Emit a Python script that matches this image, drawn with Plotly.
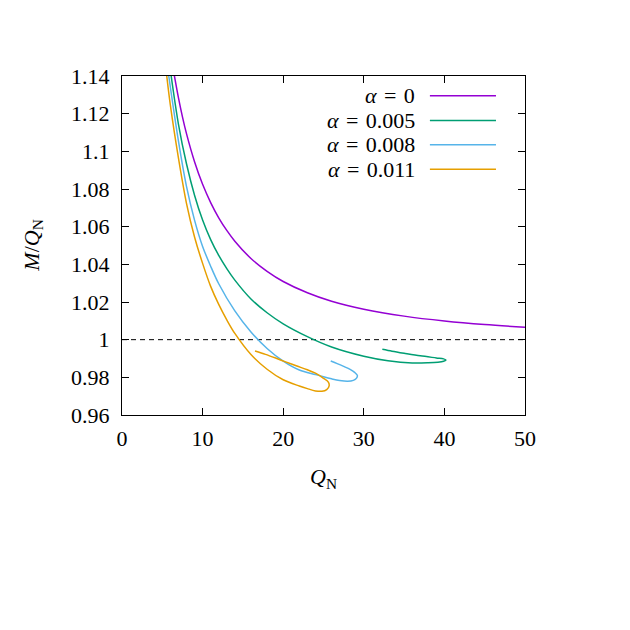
import plotly.graph_objects as go

# ---- data ----
q_a0 = [6.5, 7, 7.5, 8, 9, 10, 11, 12, 13, 14, 16, 18, 20, 23, 26, 30, 35, 40, 45, 50]
m_a0 = [1.1401, 1.1285, 1.1183, 1.1094, 1.0945, 1.0825, 1.0728, 1.0647, 1.0580, 1.0523,
        1.0431, 1.0363, 1.0309, 1.0249, 1.0204, 1.0162, 1.0125, 1.0099, 1.0080, 1.0066]

q_a005 = [6.1, 7, 8, 9, 10, 11, 12, 13, 14, 16, 18, 20, 23, 26, 30, 33, 36, 38, 39.2, 39.9,
          40.2, 39.9, 39.0, 37.0, 35.0, 33.5, 32.3]
m_a005 = [1.140, 1.1145, 1.0934, 1.0767, 1.0635, 1.0531, 1.0447, 1.0377, 1.0316, 1.0216,
          1.0143, 1.0084, 1.0016, 0.9961, 0.9912, 0.9888, 0.9876, 0.9877, 0.9880, 0.9885,
          0.9892, 0.9898, 0.9903, 0.9914, 0.9928, 0.9939, 0.9949]

q_a008 = [5.8, 7, 8, 9, 10, 11, 12, 14, 16, 18, 20, 22, 24, 25, 26, 27, 28, 28.7, 29.1,
          29.2, 28.9, 28.3, 27.5, 26.7, 25.9]
m_a008 = [1.140, 1.1055, 1.0814, 1.0635, 1.0495, 1.039, 1.0297, 1.0153, 1.0041, 0.9953,
          0.9886, 0.9839, 0.9815, 0.9803, 0.9792, 0.9783, 0.9779, 0.9784, 0.9796,
          0.9810, 0.9825, 0.9842, 0.9858, 0.9873, 0.9887]

q_a011 = [5.55, 6, 7, 8, 9, 10, 11, 12, 13, 14, 16, 18, 20, 22, 23, 24, 24.8, 25.4, 25.7,
          25.6, 25.0, 24.0, 23.0, 21.7, 20.3, 19.2, 17.8, 16.5]
m_a011 = [1.140, 1.1245, 1.0965, 1.0724, 1.0545, 1.0405, 1.0283, 1.0187, 1.0105, 1.0033,
          0.9921, 0.9843, 0.9787, 0.9754, 0.9740, 0.9728, 0.9726, 0.9735, 0.9755,
          0.9775, 0.9795, 0.9822, 0.9840, 0.9860, 0.9882, 0.9900, 0.9922, 0.9940]

SP = "\u2004"
series_names = [f"<i>α</i>{SP}={SP}0", f"<i>α</i>{SP}={SP}0.005",
                f"<i>α</i>{SP}={SP}0.008", f"<i>α</i>{SP}={SP}0.011"]
series_colors = ["#9400D3", "#009E73", "#56B4E9", "#E69F00"]

x_ticks = [0, 10, 20, 30, 40, 50]
x_ticktext = ["0", "10", "20", "30", "40", "50"]
y_ticks = [0.96, 0.98, 1.0, 1.02, 1.04, 1.06, 1.08, 1.10, 1.12, 1.14]
y_ticktext = ["0.96", "0.98", "1", "1.02", "1.04", "1.06", "1.08", "1.1", "1.12", "1.14"]

FONT = "Liberation Serif"
FS = 22

fig = go.Figure()

# reference line M/Q_N = 1
fig.add_trace(go.Scatter(x=[0, 50], y=[1, 1], mode="lines",
                         line=dict(color="black", width=1, dash="5px,4px"),
                         showlegend=False, hoverinfo="skip"))

all_series = [(q_a0, m_a0), (q_a005, m_a005), (q_a008, m_a008), (q_a011, m_a011)]
for (qs, ms), name, col in zip(all_series, series_names, series_colors):
    fig.add_trace(go.Scatter(x=qs, y=ms, mode="lines", name=name,
                             line=dict(color=col, width=1.5, shape="spline", smoothing=0.9),
                             showlegend=False))

# gnuplot-style key (text left, sample line right)
leg_y = [0.942, 0.869, 0.797, 0.725]
for name, col, yy in zip(series_names, series_colors, leg_y):
    fig.add_annotation(x=0.732, y=yy, xref="paper", yref="paper", text=name,
                       showarrow=False, xanchor="right", yanchor="middle",
                       font=dict(family=FONT, size=FS, color="black"))
    fig.add_shape(type="line", xref="paper", yref="paper",
                  x0=0.764, x1=0.928, y0=yy, y1=yy,
                  line=dict(color=col, width=1.5))

# axis titles
fig.add_annotation(x=0.5, y=-0.186, xref="paper", yref="paper",
                   text="<i>Q</i><sub>N</sub>", showarrow=False,
                   xanchor="center", yanchor="middle",
                   font=dict(family=FONT, size=FS, color="black"))
fig.add_annotation(x=-0.223, y=0.5, xref="paper", yref="paper",
                   text="<i>M</i>/<i>Q</i><sub>N</sub>", showarrow=False,
                   textangle=-90, xanchor="center", yanchor="middle",
                   font=dict(family=FONT, size=FS, color="black"))

axis_common = dict(showline=True, linecolor="black", linewidth=1, mirror="ticks",
                   ticks="inside", ticklen=7, tickcolor="black", tickwidth=1,
                   showgrid=False, zeroline=False,
                   tickfont=dict(family=FONT, size=FS, color="black"))

fig.update_xaxes(range=[0, 50], tickvals=x_ticks, ticktext=x_ticktext,
                 ticklabelstandoff=4, **axis_common)
fig.update_yaxes(range=[0.96, 1.14], tickvals=y_ticks, ticktext=y_ticktext,
                 ticklabelstandoff=7, **axis_common)

fig.update_layout(width=630, height=630,
                  margin=dict(l=114, r=113, t=68, b=223, autoexpand=False),
                  paper_bgcolor="white", plot_bgcolor="white",
                  showlegend=False)

fig.write_html("out.html")
